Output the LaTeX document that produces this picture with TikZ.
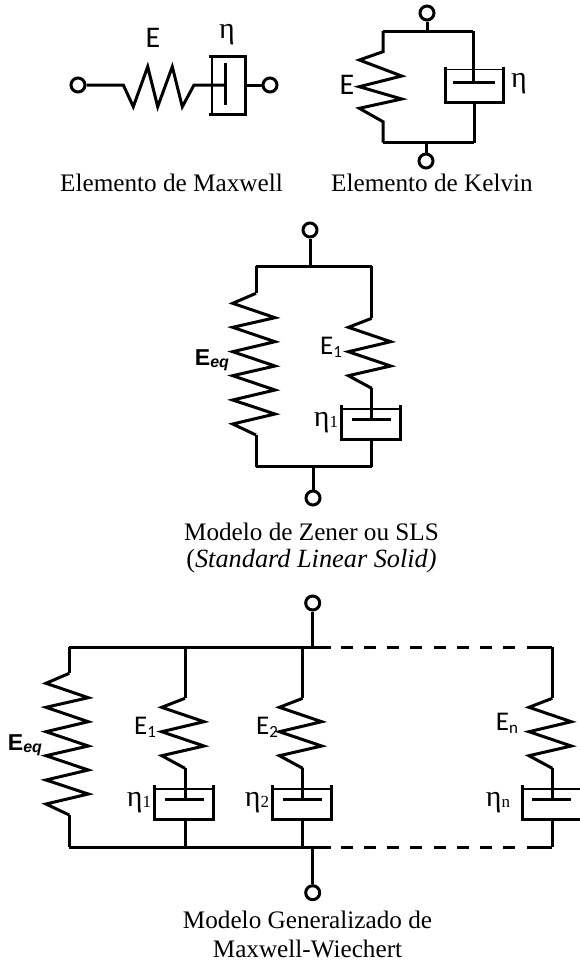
\documentclass[tikz,border=0pt]{standalone}
\usepackage{fontspec}
\setmainfont{Liberation Serif}
\newfontfamily\labf{Carlito}
\newfontfamily\etaf{Liberation Serif}
\newfontfamily\eqf{Liberation Sans}
\newcommand{\capt}{\fontsize{25.2}{28}\selectfont}
\newcommand{\EE}[1]{{\labf\fontsize{27}{29}\selectfont E\raisebox{-3pt}{\fontsize{17}{18}\selectfont #1}}}
\newcommand{\ET}[1]{{\etaf\fontsize{30}{32}\selectfont η\raisebox{-1pt}{\fontsize{17}{18}\selectfont #1}}}
\newcommand{\EQ}{{\eqf\bfseries\fontsize{23}{25}\selectfont E\raisebox{-2pt}{\itshape\fontsize{16}{17}\selectfont eq}}}
\newcommand{\longspring}[2]{\draw[wire] (#1,#2) -- ++(-23.3,10) -- ++(42.3,14.4) -- ++(-42.3,9.6) -- ++(42.3,14.4) -- ++(-42.3,10) -- ++(42.3,14.3) -- ++(-42.3,9.7) -- ++(42.3,14.3) -- ++(-42.3,10) -- ++(42.3,14) -- ++(-42.3,10) -- ++(23.3,11);}
\newcommand{\shortspring}[2]{\draw[wire] (#1,#2) -- ++(-23.3,9) -- ++(42.3,14.4) -- ++(-42.3,10) -- ++(42.3,14.3) -- ++(-42.3,9.7) -- ++(23.3,12.6);}
\newcommand{\dashpot}[2]{%
  \draw[wire] (#1-30.7,#2) -- (#1-30.7,#2+34) -- (#1+28.3,#2+34) -- (#1+28.3,#2);
  \draw[thinwire] (#1-30.7,#2+4) -- (#1+28.3,#2+4);
  \draw[wire] (#1-20,#2+14) -- (#1+19,#2+14);}
\tikzset{
  wire/.style={line width=3pt,line join=miter,black},
  thinwire/.style={line width=1.8pt,black},
  term/.style={circle,draw,line width=3pt,minimum size=14pt,inner sep=0pt,fill=white},
  captext/.style={inner sep=0pt,align=center,font=\capt,anchor=base},
  lab/.style={inner sep=0pt}
}
\begin{document}
\begin{tikzpicture}[x=1pt,y=-1pt]
\useasboundingbox (0,0) rectangle (580,962);
\begin{scope}
\clip (0,0) rectangle (580,962);
%% Maxwell
\node[term] (ma) at (78,85) {};
\node[term] (mb) at (270,85) {};
\coordinate (ms) at (123.3,85);
\coordinate (me) at (194,85);
\coordinate (mp) at (225,85);
\coordinate (mr) at (245,85);
\draw[wire] (ma) -- (ms) -- (133.3,106.7) -- (147.7,66.7) -- (157.7,106.7) -- (172.3,66.7) -- (182.3,106.7) -- (me) -- (mp);
\draw[wire] (225,63) -- (225,105);
\draw[wire] (209,56) -- (245,56) -- (245,114) -- (209,114);
\draw[thinwire] (212,56) -- (212,114);
\draw[wire] (mr) -- (mb);
\node[lab] at (153,38) {{\labf\fontsize{30}{32}\selectfont E}};
\node[lab] at (227,35) {{\etaf\fontsize{30}{32}\selectfont η}};
\node[captext] (mc) at (171.5,191.7) {Elemento de Maxwell};
%% Kelvin
\node[term] (ka) at (427,13) {};
\node[term] (kb) at (426,161) {};
\coordinate (kt) at (427,31);
\coordinate (kbt) at (426,142.7);
\draw[wire] (ka) -- (kt);
\draw[wire] (kb) -- (kbt);
\draw[wire] (383,31) -- (473,31);
\draw[wire] (383,142.7) -- (474,142.7);
\draw[wire] (383,31) -- (383,51.7) -- (359.3,60) -- (401.7,76) -- (359.3,86.7) -- (401.7,99) -- (359.3,108.3) -- (383,121.7) -- (383,142.7);
\draw[wire] (473,31) -- (473,82.7);
\draw[wire] (453,82.7) -- (495,82.7);
\draw[wire] (445,67) -- (445,102) -- (503,102) -- (503,67);
\draw[thinwire] (445,69.5) -- (503,69.5);
\draw[wire] (474,102) -- (474,142.7);
\node[lab] at (347,85) {{\labf\fontsize{30}{32}\selectfont E}};
\node[lab] at (519,84) {{\etaf\fontsize{30}{32}\selectfont η}};
\node[captext] (kc) at (432,191.7) {Elemento de Kelvin};
%% Zener
\node[term] (za) at (310,230) {};
\node[term] (zb) at (313,498) {};
\coordinate (zt) at (310,266);
\coordinate (zbt) at (313,466.7);
\draw[wire] (za) -- (zt);
\draw[wire] (zb) -- (zbt);
\draw[wire] (256,266) -- (371.7,266);
\draw[wire] (256,466.7) -- (371.7,466.7);
\draw[wire] (256,266) -- (256,293.3);
\longspring{256}{293.3}
\draw[wire] (256,435) -- (256,466.7);
\draw[wire] (371.7,266) -- (371.7,318.3);
\shortspring{371.7}{318.3}
\draw[wire] (371.7,388.3) -- (371.7,419);
\dashpot{371.7}{405}
\draw[wire] (371.7,439) -- (371.7,466.7);
\node[lab] at (212,360) {\EQ};
\node[lab] at (331,347) {\EE{1}};
\node[lab] at (326,423) {\ET{1}};
\node[captext] (zc) at (311.5,540.7) {Modelo de Zener ou SLS};
\node[captext] (zd) at (311.5,567) {\fontsize{26.3}{28}\selectfont(\textit{Standard Linear Solid)}};
%% Generalized
\node[term] (ga) at (312.7,603) {};
\node[term] (gb) at (312.7,892.7) {};
\coordinate (gt) at (312.7,647.3);
\coordinate (gbt) at (312.7,847.3);
\draw[wire] (ga) -- (gt);
\draw[wire] (gb) -- (gbt);
\foreach \yy in {647.3,847.3}{
  \draw[wire] (69.3,\yy) -- (331,\yy);
  \draw[wire,dash pattern=on 12pt off 11.25pt] (340.7,\yy) -- (517,\yy);
  \draw[wire] (526.7,\yy) -- (552.3,\yy);
}
\draw[wire] (69.3,647.3) -- (69.3,673.3);
\longspring{69.3}{673.3}
\draw[wire] (69.3,815) -- (69.3,847.3);
\foreach \xx in {185,302.7,552.3}{
  \draw[wire] (\xx,647.3) -- (\xx,698.3);
  \shortspring{\xx}{698.3}
  \draw[wire] (\xx,768.3) -- (\xx,799);
  \draw[wire] (\xx,819) -- (\xx,847.3);
}
\dashpot{185}{785}
\dashpot{302.7}{785}
\draw[wire] (522.7,785) -- (522.7,819) -- (580,819);
\draw[thinwire] (522.7,789) -- (580,789);
\draw[wire] (532.3,799) -- (571.3,799);
\node[lab] at (25,745) {\EQ};
\node[lab] at (145,727) {\EE{1}};
\node[lab] at (267,727) {\EE{2}};
\node[lab] at (507,723) {\EE{n}};
\node[lab] at (139,803) {\ET{1}};
\node[lab] at (257,803) {\ET{2}};
\node[lab] at (498,803) {\ET{n}};
\node[captext] (gc) at (307.5,928) {Modelo Generalizado de};
\node[captext] (gd) at (307.5,957) {Maxwell-Wiechert};
\end{scope}
\end{tikzpicture}
\end{document}
